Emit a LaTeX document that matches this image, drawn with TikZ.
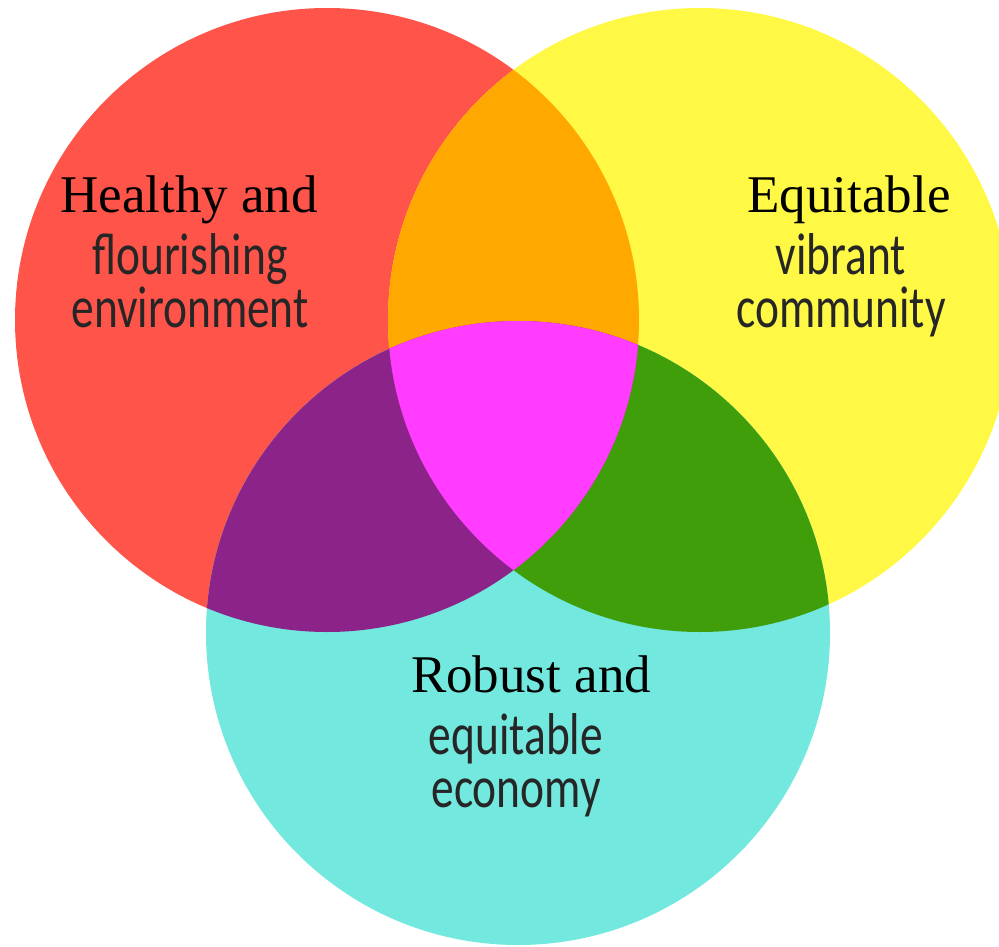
\documentclass[tikz,border=0pt]{standalone}
\usepackage{fontspec}
\setmainfont{Liberation Serif}
\newfontfamily\vennsans[FakeStretch=0.77]{Carlito}
\definecolor{envred}{HTML}{FF5449}
\definecolor{comyellow}{HTML}{FFF845}
\definecolor{ecocyan}{HTML}{72E8DE}
\definecolor{envcom}{HTML}{FFA800}
\definecolor{enveco}{HTML}{8C2388}
\definecolor{comeco}{HTML}{3F9E0A}
\definecolor{allthree}{HTML}{FF3CFF}
\tikzset{
  headline/.style={anchor=base,font=\fontsize{53}{60}\selectfont},
  subline/.style={anchor=base,align=center,inner sep=0pt,
    font=\vennsans\fontsize{59}{53}\selectfont,text=black!85},
}
\begin{document}
\begin{tikzpicture}[x=1pt,y=-1pt]
    \clip (0,0) rectangle (999,947);
    \coordinate (envc) at (327,320);
    \coordinate (comc) at (700,320);
    \coordinate (ecoc) at (518,633);
    % the three circles
    \fill[envred] (envc) circle[radius=312pt];
    \fill[comyellow] (comc) circle[radius=312pt];
    \fill[ecocyan] (ecoc) circle[radius=312pt];
    % overlaps
    \begin{scope}
        \clip (comc) circle[radius=312pt];
        \fill[comeco] (ecoc) circle[radius=312pt];
    \end{scope}
    \begin{scope}
        \clip (envc) circle[radius=312pt];
        \fill[envcom] (comc) circle[radius=312pt];
        \fill[enveco] (ecoc) circle[radius=312pt];
        \clip (comc) circle[radius=312pt];
        \fill[allthree] (ecoc) circle[radius=312pt];
    \end{scope}
    % labels (base = last line)
    \node[headline] (envhead) at (189,212) {Healthy and};
    \node[subline] (envsub) at (190,327) {flourishing\\environment};
    \node[headline] (comhead) at (849,212) {Equitable};
    \node[subline] (comsub) at (841,327) {vibrant\\community};
    \node[headline] (ecohead) at (531,692) {Robust and};
    \node[subline] (ecosub) at (516,807) {equitable\\economy};
\end{tikzpicture}
\end{document}
